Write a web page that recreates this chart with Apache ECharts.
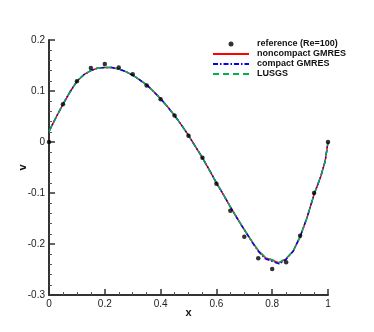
<!DOCTYPE html>
<html lang="en">
<head>
    <meta charset="UTF-8">
    <title>v profile</title>
    <script src="https://cdn.jsdelivr.net/npm/echarts@6/dist/echarts.min.js"></script>
    <style>
        html, body { margin: 0; padding: 0; background: #fff; }
        #main { width: 374px; height: 332px; }
    </style>
</head>
<body>
<div id="main"></div>
<script type="text/javascript">
    // reference points (Re=100)
    var refX = [0, 0.05, 0.10, 0.15, 0.20, 0.25, 0.30, 0.35, 0.40, 0.45, 0.50,
        0.55, 0.60, 0.65, 0.70, 0.75, 0.80, 0.85, 0.90, 0.95, 1.0];
    var refV = [0, 0.074, 0.119, 0.145, 0.153, 0.146, 0.133, 0.111, 0.084, 0.052, 0.0125,
        -0.031, -0.082, -0.135, -0.186, -0.228, -0.249, -0.236, -0.184, -0.100, 0];

    // computed profiles
    var curveX = [0, 0.025, 0.05, 0.075, 0.10, 0.125, 0.15, 0.175, 0.20, 0.225, 0.25,
        0.275, 0.30, 0.325, 0.35, 0.375, 0.40, 0.425, 0.45, 0.475, 0.50,
        0.525, 0.55, 0.575, 0.60, 0.625, 0.65, 0.675, 0.70, 0.725, 0.75,
        0.775, 0.80, 0.825, 0.85, 0.875, 0.90, 0.925, 0.95, 0.975, 0.99, 1.0];
    var noncompactV = [0.021, 0.048, 0.074, 0.098, 0.119, 0.132, 0.140, 0.145, 0.146, 0.146, 0.143,
        0.138, 0.131, 0.122, 0.112, 0.099, 0.085, 0.069, 0.052, 0.033, 0.013,
        -0.009, -0.031, -0.055, -0.080, -0.103, -0.127, -0.150, -0.172, -0.193, -0.213,
        -0.227, -0.232, -0.237, -0.229, -0.214, -0.186, -0.148, -0.103, -0.066, -0.037, 0];
    var compactV = [0.021, 0.048, 0.074, 0.098, 0.119, 0.132, 0.140, 0.145, 0.146, 0.146, 0.143,
        0.138, 0.131, 0.122, 0.112, 0.099, 0.085, 0.069, 0.052, 0.033, 0.013,
        -0.009, -0.031, -0.055, -0.080, -0.103, -0.127, -0.150, -0.172, -0.194, -0.214,
        -0.229, -0.234, -0.239, -0.230, -0.214, -0.186, -0.148, -0.103, -0.066, -0.037, 0];
    var lusgsV = [0.021, 0.048, 0.074, 0.098, 0.119, 0.132, 0.140, 0.145, 0.146, 0.146, 0.143,
        0.138, 0.131, 0.122, 0.112, 0.099, 0.085, 0.069, 0.052, 0.033, 0.013,
        -0.009, -0.031, -0.055, -0.080, -0.103, -0.127, -0.150, -0.172, -0.193, -0.212,
        -0.226, -0.231, -0.236, -0.228, -0.214, -0.186, -0.148, -0.103, -0.066, -0.037, 0];

    var xTicks = [0, 0.2, 0.4, 0.6, 0.8, 1];
    var yTicks = [-0.3, -0.2, -0.1, 0, 0.1, 0.2];

    function pairs(xs, ys) {
        return xs.map(function (x, i) { return [x, ys[i]]; });
    }

    var font = 'Liberation Sans, Arial, sans-serif';
    var chart = echarts.init(document.getElementById('main'));

    var axisCommon = {
        axisLine: { show: true, onZero: false, lineStyle: { color: '#333', width: 2 } },
        axisTick: { show: true, inside: true, length: 6, lineStyle: { color: '#333', width: 1.5 } },
        minorTick: { show: true, length: 3, lineStyle: { color: '#555', width: 1 } },
        splitLine: { show: false },
        axisLabel: { color: '#222', fontSize: 10, fontFamily: font },
        nameMoveOverlap: false,
        nameTextStyle: { color: '#111', fontSize: 11, fontWeight: 'bold', fontFamily: font }
    };

    // hide the centre dot that line-series legend icons get
    var noDot = { opacity: 0 };

    chart.setOption({
        animation: false,
        grid: { left: 49, right: 46, top: 40, bottom: 37, outerBoundsMode: 'none' },
        legend: {
            orient: 'vertical',
            left: 212,
            top: 39,
            padding: 0,
            itemWidth: 36,
            itemHeight: 5,
            itemGap: 0,
            textStyle: { color: '#111', fontSize: 9, lineHeight: 10, fontWeight: 'bold', fontFamily: font, padding: [0, 0, 0, 3] },
            data: [
                { name: 'reference (Re=100)' },
                { name: 'noncompact GMRES', itemStyle: noDot },
                { name: 'compact GMRES', itemStyle: noDot },
                { name: 'LUSGS', itemStyle: noDot }
            ]
        },
        xAxis: Object.assign({}, axisCommon, {
            type: 'value',
            min: xTicks[0],
            max: xTicks[xTicks.length - 1],
            interval: 0.2,
            minorTick: Object.assign({}, axisCommon.minorTick, { splitNumber: 4 }),
            axisLabel: Object.assign({}, axisCommon.axisLabel, { margin: 4 }),
            name: 'x',
            nameLocation: 'middle',
            nameGap: 12
        }),
        yAxis: Object.assign({}, axisCommon, {
            type: 'value',
            min: yTicks[0],
            max: yTicks[yTicks.length - 1],
            interval: 0.1,
            minorTick: Object.assign({}, axisCommon.minorTick, { splitNumber: 5 }),
            axisLabel: Object.assign({}, axisCommon.axisLabel, { margin: 4 }),
            name: 'v',
            nameLocation: 'middle',
            nameRotate: 90,
            nameGap: 21
        }),
        series: [
            {
                name: 'reference (Re=100)',
                type: 'scatter',
                symbol: 'circle',
                symbolSize: 4.5,
                itemStyle: { color: '#000' },
                data: pairs(refX, refV),
                z: 5
            },
            {
                name: 'noncompact GMRES',
                type: 'line',
                symbol: 'none',
                itemStyle: { color: '#ff0000' },
                lineStyle: { color: '#ff0000', width: 1.5 },
                data: pairs(curveX, noncompactV)
            },
            {
                name: 'compact GMRES',
                type: 'line',
                symbol: 'none',
                itemStyle: { color: '#0000ff' },
                lineStyle: { color: '#0000ff', width: 1.5, type: [5, 2, 1.5, 2] },
                data: pairs(curveX, compactV)
            },
            {
                name: 'LUSGS',
                type: 'line',
                symbol: 'none',
                itemStyle: { color: '#00b050' },
                lineStyle: { color: '#00b050', width: 1.5, type: [6, 4] },
                data: pairs(curveX, lusgsV)
            }
        ]
    });
</script>
</body>
</html>
